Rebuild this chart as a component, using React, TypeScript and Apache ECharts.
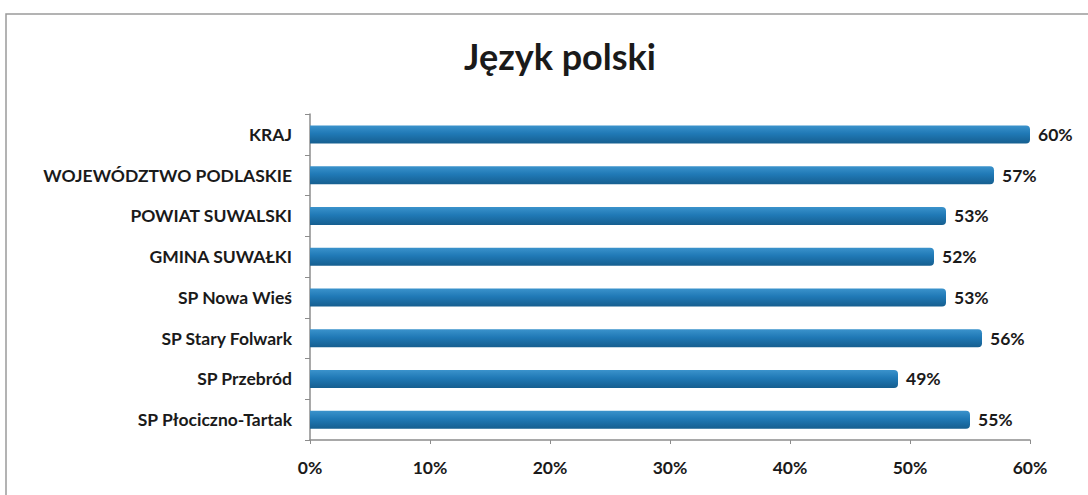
import React, { useEffect, useRef } from "react";
import * as echarts from "echarts";

const categories = [
  "KRAJ",
  "WOJEWÓDZTWO PODLASKIE",
  "POWIAT SUWALSKI",
  "GMINA SUWAŁKI",
  "SP Nowa Wieś",
  "SP Stary Folwark",
  "SP Przebród",
  "SP Płociczno-Tartak",
];
const values = [60, 57, 53, 52, 53, 56, 49, 55];
const titleText = "Język polski";

export default function App() {
  const ref = useRef<HTMLDivElement>(null);
  useEffect(() => {
    if (!ref.current) return;
    const chart = echarts.init(ref.current, null, { renderer: "svg" });
    const font = "Lato, 'Open Sans', sans-serif";
    chart.setOption({
      animation: false,
      backgroundColor: "#ffffff",
      title: {
        text: titleText,
        left: 555,
        textAlign: "center",
        top: 33,
        textStyle: { fontFamily: font, fontSize: 36, fontWeight: "bold", color: "#1a1a1a" },
      },
      graphic: [
        {
          type: "rect",
          shape: { x: 6, y: 14, width: 1100, height: 500 },
          style: { fill: "none", stroke: "#9a9a9a", lineWidth: 1.5 },
          silent: true,
        },
      ],
      grid: { left: 310, right: 58, top: 114, height: 326, containLabel: false },
      xAxis: {
        type: "value",
        min: 0,
        max: 60,
        interval: 10,
        axisLine: { show: true, lineStyle: { color: "#8c8c8c", width: 1.5 } },
        axisTick: { show: true, length: 4, lineStyle: { color: "#8c8c8c" } },
        splitLine: { show: false },
        axisLabel: {
          formatter: "{value}%",
          margin: 18,
          fontFamily: font,
          fontSize: 17.5,
          fontWeight: "bold",
          color: "#1a1a1a",
        },
      },
      yAxis: {
        type: "category",
        data: categories,
        inverse: true,
        axisLine: { show: true, lineStyle: { color: "#8c8c8c", width: 1.5 } },
        axisTick: { show: true, length: 5, lineStyle: { color: "#8c8c8c" } },
        axisLabel: {
          margin: 18,
          fontFamily: font,
          fontSize: 17.5,
          fontWeight: "bold",
          color: "#1a1a1a",
        },
      },
      series: [
        {
          type: "bar",
          data: values,
          barWidth: 18,
          itemStyle: {
            borderRadius: [0, 4, 4, 0],
            color: new echarts.graphic.LinearGradient(0, 0, 0, 1, [
              { offset: 0, color: "#3b93cc" },
              { offset: 0.45, color: "#2079b6" },
              { offset: 1, color: "#165f90" },
            ]),
          },
          label: {
            show: true,
            position: "right",
            distance: 8,
            formatter: "{c}%",
            fontFamily: font,
            fontSize: 17.5,
            fontWeight: "bold",
            color: "#1a1a1a",
          },
        },
      ],
    });
    return () => chart.dispose();
  }, []);
  return (
    <div
      ref={ref}
      style={{ position: "fixed", left: 0, top: 0, width: 1088, height: 495 }}
    />
  );
}
